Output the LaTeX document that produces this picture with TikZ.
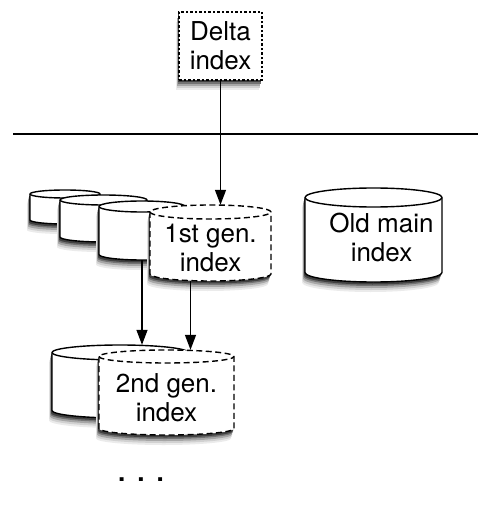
\documentclass[tikz,border=0pt]{standalone}
\usepackage{fontspec}
\setmainfont{TeX Gyre Heros}
\usetikzlibrary{arrows.meta, calc}
\tikzset{>={Triangle[length=15pt,width=11pt]}}
\tikzset{
  oldgen/.style = {line width=1.4pt},
  newgen/.style = {line width=1.4pt, dash pattern=on 6pt off 3.5pt},
  cyltext/.style = {inner sep=0pt, align=center, font=\fontsize{26}{29}\selectfont},
  deltabox/.style = {draw, fill=white, line width=1.4pt, dash pattern=on 2.5pt off 2pt,
                     inner sep=0pt, align=center,
                     minimum width=83pt, minimum height=68pt,
                     font=\fontsize{26}{29}\selectfont},
  flow/.style = {->, line width=1.4pt}
}
\def\shadowsteps{-3/10/8, -2.5/8/18, -2/6/35, -1.5/4/55, -1/2.5/75}
% name, x, y, width, height, end radius, line style, text, text offset
\newcommand{\storage}[9]{%
  \pgfmathsetmacro{\cylxl}{#2-#4/2}%
  \pgfmathsetmacro{\cylxr}{#2+#4/2}%
  \pgfmathsetmacro{\cylrx}{#4/2}%
  \pgfmathsetmacro{\cylyt}{#3-#5/2+#6}%
  \pgfmathsetmacro{\cylyb}{#3+#5/2-#6}%
  \foreach \dx/\dy/\g in \shadowsteps
    \fill[black!\g, shift={(\dx pt,-\dy pt)}] (\cylxl,\cylyt) -- (\cylxl,\cylyb)
      arc[start angle=180, end angle=360, x radius=\cylrx pt, y radius=#6pt]
      -- (\cylxr,\cylyt)
      arc[start angle=0, end angle=180, x radius=\cylrx pt, y radius=#6pt] -- cycle;
  \filldraw[fill=white, #7] (\cylxl,\cylyt) -- (\cylxl,\cylyb)
      arc[start angle=180, end angle=360, x radius=\cylrx pt, y radius=#6pt]
      -- (\cylxr,\cylyt)
      arc[start angle=0, end angle=180, x radius=\cylrx pt, y radius=#6pt] -- cycle;
  \draw[#7] (\cylxl,\cylyt)
      arc[start angle=180, end angle=360, x radius=\cylrx pt, y radius=#6pt];
  \node[inner sep=0pt, minimum width=#4pt, minimum height=#5pt] (#1) at (#2,#3) {};
  \node[cyltext] (#1-text) at ($(#1.center)+#9$) {#8};
}

\begin{document}
\begin{tikzpicture}[x=1pt, y=-1pt]
\useasboundingbox (0,0) rectangle (482,526);

% in memory
\foreach \dx/\dy/\g in \shadowsteps
  \fill[black!\g, shift={(\dx pt,-\dy pt)}] (179,12) rectangle (262,80);
\node[deltabox] (delta) at (220.5,46) {Delta\\index};

\draw[line width=1.4pt] (13,134) -- (478,134);

% on disk: first generation
\storage{g1a}{65}{207}{70}{34}{4}{oldgen}{}{(0,0)}
\storage{g1b}{103.5}{218.5}{87}{47}{5}{oldgen}{}{(0,0)}
\storage{g1c}{142}{230.5}{86}{59}{5.5}{oldgen}{}{(0,0)}
\storage{first}{210.5}{243}{121}{76}{7}{newgen}{1st gen.\\index}{(0,4.5)}

\storage{old}{373.5}{235}{137}{94}{9.5}{oldgen}{Old main\\index}{(8,2.5)}

% second generation
\storage{g2a}{120}{381.5}{136}{73}{7.5}{oldgen}{}{(0,0)}
\storage{second}{166.5}{392.5}{135}{85}{6.5}{newgen}{2nd gen.\\index}{(0,5)}

\node[anchor=base, font=\fontsize{26}{29}\selectfont\bfseries] (more) at (141,481) {.\hskip 12pt.\hskip 12pt.};

\draw[flow] (delta.south) -- (delta.south |- first.north);
\draw[flow] (g1c.south) -- (g1c.south |- g2a.north);
\draw[flow] ([xshift=-20pt]first.south) -- ([xshift=-20pt]first.south |- second.north);
\end{tikzpicture}
\end{document}
